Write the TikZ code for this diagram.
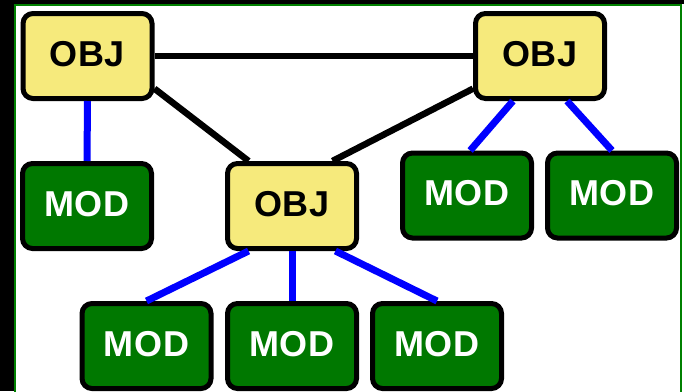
\documentclass[tikz,border=0pt]{standalone}
\usepackage{fontspec}
\setmainfont{Liberation Sans}
\usepackage{tikz}
\usetikzlibrary{positioning,calc}
\usepackage{xcolor}
\definecolor{objyellow}{RGB}{246,234,124}
\definecolor{modgreen}{RGB}{0,120,0}
\definecolor{framegreen}{RGB}{0,128,0}
\definecolor{linkblue}{RGB}{0,0,255}

\begin{document}
\begin{tikzpicture}[
    x=1pt, y=-1pt,
    box/.style={rectangle, rounded corners=10pt, draw=black, line width=5pt,
        minimum width=129pt, minimum height=85pt, text depth=5pt,
        font=\fontsize{36}{40}\selectfont\bfseries\addfontfeatures{LetterSpace=1.5}},
    objbox/.style={box, fill=objyellow, text=black},
    modbox/.style={box, fill=modgreen, text=white},
    peer/.style={draw=black, line width=6.5pt},
    owns/.style={draw=linkblue, line width=7pt}
]

% frame
\useasboundingbox (0,0) rectangle (684,391);
\fill[white] (0,0) rectangle (684,391);
\fill[black] (0,0) rectangle (14,391);
\fill[black] (0,0) rectangle (684,4);
\draw[framegreen, line width=1.5pt] (15,5) rectangle (681,400);

% objects
\node[objbox] (obj1) at (87.5,56) {OBJ};
\node[objbox] (obj2) at (540,56) {OBJ};
\node[objbox] (obj3) at (292,206) {OBJ};

% modules
\node[modbox] (mod1) at (87,206) {MOD};
\node[modbox] (mod2) at (467,195.5) {MOD};
\node[modbox] (mod3) at (612,195.5) {MOD};
\node[modbox] (mod4) at (146.5,346) {MOD};
\node[modbox] (mod5) at (292,346) {MOD};
\node[modbox] (mod6) at (437,346) {MOD};

% object links
\draw[peer] (obj1.east) -- (obj2.west);
\draw[peer] (obj1.-26) -- (obj3.134);
\draw[peer] (obj2.-154) -- (obj3.48);

% module links
\draw[owns] (obj1.south) -- (mod1.north);
\draw[owns] (obj2.-121) -- (mod2.86);
\draw[owns] (obj2.-59) -- (mod3.north);
\draw[owns] (obj3.-134) -- (mod4.north);
\draw[owns] (obj3.south) -- (mod5.north);
\draw[owns] (obj3.-46) -- (mod6.north);

\end{tikzpicture}
\end{document}
